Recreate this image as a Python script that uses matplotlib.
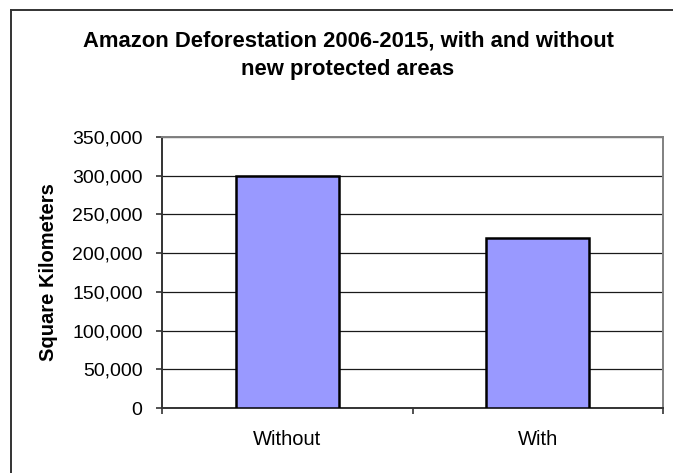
import numpy as np
import matplotlib.pyplot as plt
from matplotlib.lines import Line2D
from matplotlib.ticker import FuncFormatter

categories = ['Without', 'With']
area_km2 = [300000, 220000]
y_ticks = [0, 50000, 100000, 150000, 200000, 250000, 300000, 350000]
title_lines = ['Amazon Deforestation 2006-2015, with and without',
               'new protected areas']

plt.rcParams['font.family'] = ['Liberation Sans', 'DejaVu Sans']

W, H = 673, 473
fig = plt.figure(figsize=(W / 100, H / 100), dpi=100)
fig.patch.set_facecolor('white')

# outer chart frame: only top and left edges are inside the picture
frame_x, frame_y = 11.5 / W, 1 - 10 / H
fig.lines.append(Line2D([frame_x, 1.0], [frame_y, frame_y],
                        transform=fig.transFigure, color='#333333', lw=1.4))
fig.lines.append(Line2D([frame_x, frame_x], [0.0, frame_y],
                        transform=fig.transFigure, color='#333333', lw=1.4))

ax = fig.add_axes([162 / W, 1 - 408 / H, 501 / W, 271 / H])
x = np.arange(len(categories))
ax.bar(x, area_km2, width=0.41, color='#9999FF', edgecolor='black',
       linewidth=1.8, zorder=3)

ax.set_xlim(-0.5, len(categories) - 0.5)
ax.set_ylim(0, 350000)
ax.set_yticks(y_ticks)
ax.yaxis.set_major_formatter(FuncFormatter(lambda v, p: f'{int(v):,}'))

# category boundaries get the tick marks, labels sit between them
ax.set_xticks(np.arange(len(categories) + 1) - 0.5)
ax.set_xticklabels([])
ax.set_xticks(x, minor=True)
ax.set_xticklabels(categories, minor=True)
ax.tick_params(axis='x', which='minor', length=0, pad=15.5, labelsize=14.5)
ax.tick_params(axis='x', which='major', length=4, width=1.2, color='#333333')
ax.tick_params(axis='y', length=4.5, width=1.2, color='#333333', pad=9.5,
               labelsize=14)

ax.grid(axis='y', color='#1a1a1a', linewidth=0.9, zorder=0)
for side in ['left', 'bottom']:
    ax.spines[side].set_color('#333333')
    ax.spines[side].set_linewidth(1.4)
for side in ['top', 'right']:
    ax.spines[side].set_color('#808080')
    ax.spines[side].set_linewidth(1.4)

ax.set_ylabel('Square Kilometers', fontsize=14.5, fontweight='bold',
              labelpad=10)

for i, line in enumerate(title_lines):
    fig.text(348 / W, 1 - (47 + 28 * i) / H, line, ha='center',
             va='baseline', fontsize=15.8, fontweight='bold')

fig.savefig('out.png', dpi=100)
